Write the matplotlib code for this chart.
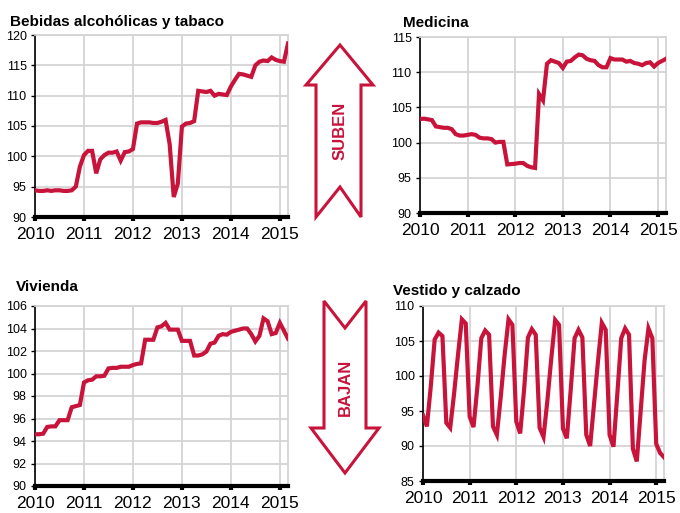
import numpy as np
import matplotlib
matplotlib.use("Agg")
import matplotlib.pyplot as plt
from matplotlib.patches import Polygon

plt.rcParams['font.family'] = ['Liberation Sans', 'DejaVu Sans']

RED = '#C8133B'
GRID = '#D4D4D4'

# monthly index values, Jan 2010 - Mar 2015
bebidas = [94.4, 94.3, 94.3, 94.4, 94.3, 94.4, 94.4, 94.3, 94.3, 94.4, 95.0, 98.3,
           100.2, 100.9, 100.9, 97.2, 99.5, 100.2, 100.6, 100.6, 100.8, 99.3, 100.7, 100.8,
           101.2, 105.4, 105.6, 105.6, 105.6, 105.5, 105.5, 105.7, 106.0, 102.0, 93.3, 95.5,
           104.9, 105.4, 105.5, 105.8, 110.8, 110.7, 110.6, 110.8, 110.0, 110.3, 110.2, 110.1,
           111.5, 112.6, 113.6, 113.5, 113.3, 113.1, 115.0, 115.6, 115.8, 115.7, 116.3, 115.9,
           115.7, 115.6, 118.6]

medicina = [103.35, 103.4, 103.3, 103.2, 102.3, 102.2, 102.1, 102.1, 101.9, 101.2, 101.0, 101.0,
            101.1, 101.2, 101.1, 100.7, 100.6, 100.6, 100.5, 100.0, 100.1, 100.1, 96.9, 96.95,
            97.0, 97.1, 97.1, 96.7, 96.5, 96.4, 106.9, 106.0, 111.2, 111.7, 111.5, 111.3,
            110.6, 111.5, 111.6, 112.1, 112.5, 112.4, 111.9, 111.7, 111.6, 111.0, 110.7, 110.7,
            112.0, 111.8, 111.8, 111.8, 111.5, 111.6, 111.3, 111.2, 111.0, 111.3, 111.4, 110.8,
            111.3, 111.6, 111.9]

vivienda = [94.6, 94.6, 94.65, 95.25, 95.3, 95.3, 95.85, 95.85, 95.85, 97.0, 97.1, 97.2,
            99.2, 99.4, 99.45, 99.75, 99.75, 99.8, 100.45, 100.5, 100.5, 100.6, 100.6, 100.6,
            100.75, 100.85, 100.9, 103.0, 103.0, 103.0, 104.1, 104.2, 104.5, 103.9, 103.9, 103.9,
            102.9, 102.9, 102.9, 101.6, 101.6, 101.7, 101.95, 102.65, 102.75, 103.35, 103.5, 103.45,
            103.7, 103.8, 103.9, 104.0, 104.0, 103.5, 102.85, 103.35, 104.9, 104.65, 103.5, 103.6,
            104.5, 103.8, 103.1]

vestido = [94.4, 92.8, 98.5, 105.2, 106.2, 105.7, 93.3, 92.6, 97.5, 103.0, 108.1, 107.5,
           94.2, 92.7, 98.5, 105.4, 106.5, 105.9, 92.8, 91.6, 97.0, 103.0, 108.1, 107.3,
           93.5, 91.8, 98.0, 105.5, 106.7, 105.9, 92.6, 91.3, 96.5, 102.5, 108.0, 107.3,
           92.5, 91.1, 98.0, 105.4, 106.6, 105.5, 91.6, 90.0, 96.0, 102.0, 107.6, 106.6,
           91.6, 89.9, 97.5, 105.4, 106.8, 105.9, 89.6, 87.8, 95.0, 102.2, 106.8, 105.4,
           90.3, 89.0, 88.4]

years = [2010, 2011, 2012, 2013, 2014, 2015]

panels = [
    # title, data, yticks, axes rect (px: left, top, right, bottom), title pos (px)
    ("Bebidas alcohólicas y tabaco", bebidas, range(90, 121, 5), (35, 35, 288, 217), (10, 26)),
    ("Medicina", medicina, range(90, 116, 5), (420, 37, 666, 213), (403, 27)),
    ("Vivienda", vivienda, range(90, 107, 2), (35, 306, 288, 486), (16, 291)),
    ("Vestido y calzado", vestido, range(85, 111, 5), (423, 306, 664, 481), (393, 295)),
]

W, H = 680, 513
fig = plt.figure(figsize=(W / 100, H / 100), dpi=100)

for title, data, yt, (l, t, r, b), tpos in panels:
    ax = fig.add_axes([l / W, 1 - b / H, (r - l) / W, (b - t) / H])
    x = 2010 + np.arange(len(data)) / 12
    ax.plot(x, data, color=RED, lw=3.0, solid_joinstyle='miter', zorder=3)
    ax.set_xlim(2010, 2010 + 62 / 12)
    ax.set_ylim(yt[0], yt[-1])
    ax.set_yticks(list(yt))
    ax.set_xticks(years)
    ax.set_xticklabels([str(y) for y in years], fontsize=12.5)
    ax.tick_params(axis='y', labelsize=9, length=3, width=1, pad=3, direction='out')
    ax.tick_params(axis='x', length=3, width=3, pad=4, direction='out')
    ax.grid(True, color=GRID, lw=1.3, zorder=0)
    ax.set_axisbelow(True)
    ax.spines['left'].set_color('black')
    ax.spines['left'].set_linewidth(1.2)
    ax.spines['bottom'].set_color('black')
    ax.spines['bottom'].set_linewidth(3)
    for s in ('top', 'right'):
        ax.spines[s].set_color(GRID)
        ax.spines[s].set_linewidth(1.3)
    fig.text(tpos[0] / W, 1 - tpos[1] / H, title, fontsize=11, fontweight='bold',
             ha='left', va='baseline')

# overlay in pixel coordinates for the arrows
ov = fig.add_axes([0, 0, 1, 1], zorder=5)
ov.set_xlim(0, W)
ov.set_ylim(H, 0)
ov.axis('off')

up = [(340, 45), (373, 85), (361, 85), (361, 217), (340, 187), (316, 217), (316, 85), (306, 85)]
down = [(324, 301), (345, 328), (366, 301), (366, 428), (379, 428), (345, 473), (311, 428), (324, 428)]
for pts in (up, down):
    ov.add_patch(Polygon(pts, closed=True, facecolor='white', edgecolor=RED, lw=2.2,
                         joinstyle='miter'))
ov.text(340, 131, "SUBEN", rotation=90, color=RED, fontsize=12, fontweight='bold',
        ha='center', va='center')
ov.text(345, 387, "BAJAN", rotation=90, color=RED, fontsize=12, fontweight='bold',
        ha='center', va='center')

fig.savefig("out.png", dpi=100)
